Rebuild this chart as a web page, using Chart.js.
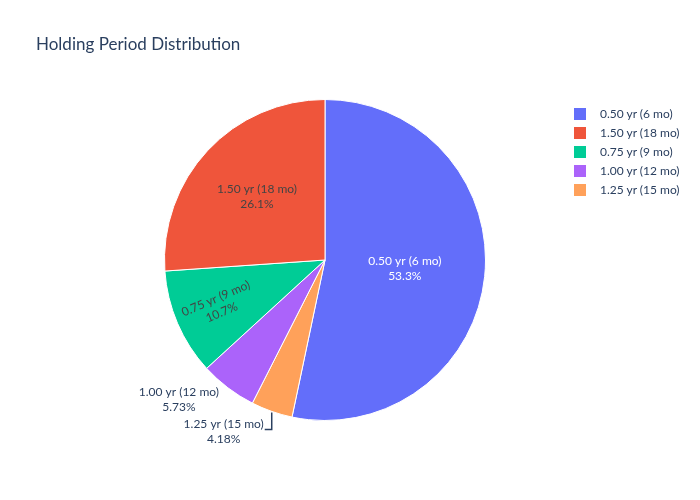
<!DOCTYPE html>
<html>
<head>
<meta charset="utf-8">
<script src="https://cdn.jsdelivr.net/npm/chart.js@4.4.1/dist/chart.umd.min.js"></script>
<style>
  html, body { margin: 0; padding: 0; background: #fff; }
  #wrap { position: relative; width: 700px; height: 500px; font-family: Lato, 'Noto Sans', sans-serif; color: #2a3f5f; }
  #title { position: absolute; left: 36px; top: 33px; font-size: 17px; color: #2a3f5f; }
  #legend { position: absolute; left: 574px; top: 104px; font-size: 12px; }
  .item { height: 19px; display: flex; align-items: center; }
  .sw { width: 12px; height: 12px; margin-right: 14px; }
</style>
</head>
<body>
<div id="wrap">
  <canvas id="chart" width="700" height="500"></canvas>
  <div id="title">Holding Period Distribution</div>
  <div id="legend"></div>
</div>
<script>
// Slices in drawing order (clockwise from 12 o'clock)
const CATEGORIES = ['0.50 yr (6 mo)', '1.25 yr (15 mo)', '1.00 yr (12 mo)', '0.75 yr (9 mo)', '1.50 yr (18 mo)'];
const SHARES     = [53.3, 4.18, 5.73, 10.7, 26.1];

const COLORS = ['#636efa', '#ffa15a', '#ab63fa', '#00cc96', '#ef553b'];
const TEXT   = '#2a3f5f';
const FONT   = "Lato, 'Noto Sans', sans-serif";

// Label placement per slice (style only)
const LABEL_STYLE = [
  { mode: 'inside', r: 0.5,  color: '#fff' },
  { mode: 'outside-leader' },
  { mode: 'outside' },
  { mode: 'inside', r: 0.72, color: '#444', radial: true },
  { mode: 'inside', r: 0.58, color: '#444' },
];

const total = SHARES.reduce((a, b) => a + b, 0);
const fmtPct = (v) => Number((v / total * 100).toPrecision(3)) + '%';

// Legend, sorted by value like the original
const legend = document.getElementById('legend');
SHARES.map((v, i) => i)
  .sort((a, b) => SHARES[b] - SHARES[a])
  .forEach((i) => {
    const row = document.createElement('div');
    row.className = 'item';
    row.innerHTML = `<div class="sw" style="background:${COLORS[i]}"></div><span>${CATEGORIES[i]}</span>`;
    legend.appendChild(row);
  });

function drawBlock(ctx, lines, cx, cy, lineH) {
  const top = cy - (lines.length - 1) * lineH / 2;
  lines.forEach((t, k) => ctx.fillText(t, cx, top + k * lineH));
}

const sliceLabels = {
  id: 'sliceLabels',
  afterDatasetsDraw(chart) {
    const ctx = chart.ctx;
    const meta = chart.getDatasetMeta(0);
    ctx.save();
    ctx.font = `12px ${FONT}`;
    ctx.textAlign = 'center';
    ctx.textBaseline = 'middle';
    meta.data.forEach((arc, i) => {
      const { x, y, startAngle, endAngle, outerRadius } = arc.getProps(['x', 'y', 'startAngle', 'endAngle', 'outerRadius'], true);
      const mid = (startAngle + endAngle) / 2;
      const st = LABEL_STYLE[i];
      const lines = [CATEGORIES[i], fmtPct(SHARES[i])];
      const w = Math.max(...lines.map((t) => ctx.measureText(t).width));
      if (st.mode === 'inside') {
        const px = x + Math.cos(mid) * outerRadius * st.r;
        const py = y + Math.sin(mid) * outerRadius * st.r;
        ctx.fillStyle = st.color;
        ctx.save();
        ctx.translate(px, py);
        if (st.radial) ctx.rotate(mid - Math.PI);
        drawBlock(ctx, lines, 0, 0, 15);
        ctx.restore();
      } else {
        const ax = x + Math.cos(mid) * outerRadius;
        const ay = y + Math.sin(mid) * outerRadius;
        ctx.fillStyle = TEXT;
        if (st.mode === 'outside') {
          drawBlock(ctx, lines, ax - 9 - w / 2, ay + 12, 15);
        } else {
          const ly = ay + 18;
          ctx.strokeStyle = TEXT;
          ctx.lineWidth = 1.5;
          ctx.beginPath();
          ctx.moveTo(ax, ay + 1);
          ctx.lineTo(ax, ly);
          ctx.lineTo(ax - 7, ly);
          ctx.stroke();
          drawBlock(ctx, lines, ax - 8 - w / 2, ly + 2.5, 15);
        }
      }
    });
    ctx.restore();
  },
};

new Chart(document.getElementById('chart'), {
  type: 'pie',
  data: {
    labels: CATEGORIES,
    datasets: [{
      data: SHARES,
      backgroundColor: COLORS,
      borderColor: '#fff',
      borderWidth: 1,
    }],
  },
  options: {
    responsive: false,
    animation: false,
    layout: { padding: { left: 164, right: 214, top: 99, bottom: 79 } },
    plugins: {
      legend: { display: false },
      tooltip: { enabled: false },
    },
  },
  plugins: [sliceLabels],
});
</script>
</body>
</html>
